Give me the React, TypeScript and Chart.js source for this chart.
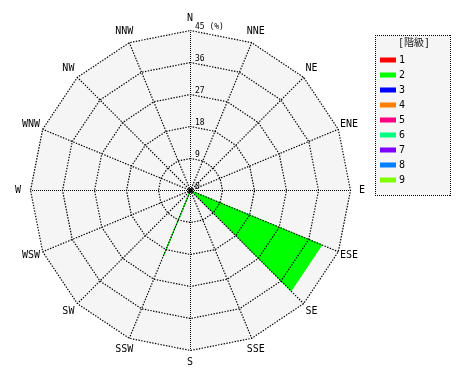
import React, { useEffect, useRef } from 'react';
import { Chart, registerables } from 'chart.js';

Chart.register(...registerables);

const DIRECTIONS = ['N', 'NNE', 'NE', 'ENE', 'E', 'ESE', 'SE', 'SSE', 'S', 'SSW', 'SW', 'WSW', 'W', 'WNW', 'NW', 'NNW'];

const CLASS_LABELS = ['1', '2', '3', '4', '5', '6', '7', '8', '9'];
const CLASS_COLORS = ['#ff0000', '#00ff00', '#0000ff', '#ff8000', '#ff0080', '#00ff80', '#8000ff', '#0080ff', '#80ff00'];

const CLASS_1 = [0, 0, 0, 0, 0, 0, 0, 0, 0, 0, 0, 0, 0, 0, 0, 0];
const CLASS_2 = [0, 0, 0, 0, 0, 40, 40, 0, 0, 20, 0, 0, 0, 0, 0, 0];
const CLASS_3 = [0, 0, 0, 0, 0, 0, 0, 0, 0, 0, 0, 0, 0, 0, 0, 0];
const CLASS_4 = [0, 0, 0, 0, 0, 0, 0, 0, 0, 0, 0, 0, 0, 0, 0, 0];
const CLASS_5 = [0, 0, 0, 0, 0, 0, 0, 0, 0, 0, 0, 0, 0, 0, 0, 0];
const CLASS_6 = [0, 0, 0, 0, 0, 0, 0, 0, 0, 0, 0, 0, 0, 0, 0, 0];
const CLASS_7 = [0, 0, 0, 0, 0, 0, 0, 0, 0, 0, 0, 0, 0, 0, 0, 0];
const CLASS_8 = [0, 0, 0, 0, 0, 0, 0, 0, 0, 0, 0, 0, 0, 0, 0, 0];
const CLASS_9 = [0, 0, 0, 0, 0, 0, 0, 0, 0, 0, 0, 0, 0, 0, 0, 0];
const SERIES = [CLASS_1, CLASS_2, CLASS_3, CLASS_4, CLASS_5, CLASS_6, CLASS_7, CLASS_8, CLASS_9];

const TICKS = [0, 9, 18, 27, 36, 45];
const UNIT = '(%)';
const LEGEND_TITLE = '[階級]';

const MONO = '"DejaVu Sans Mono", "Noto Sans CJK JP", monospace';

function dottedHLine(ctx: CanvasRenderingContext2D, x0: number, x1: number, y: number) {
  for (let x = x0; x <= x1; x += 2) ctx.fillRect(x, y, 1, 1);
}
function dottedVLine(ctx: CanvasRenderingContext2D, x: number, y0: number, y1: number) {
  for (let y = y0; y <= y1; y += 2) ctx.fillRect(x, y, 1, 1);
}

const decorPlugin = {
  id: 'windRoseDecor',
  beforeDraw(chart: any) {
    const ctx = chart.ctx;
    const r = chart.scales.r;
    ctx.save();
    ctx.translate(0.5, 0.5);
    ctx.beginPath();
    for (let i = 0; i < DIRECTIONS.length; i++) {
      const p = r.getPointPosition(i, r.drawingArea);
      if (i === 0) ctx.moveTo(p.x, p.y);
      else ctx.lineTo(p.x, p.y);
    }
    ctx.closePath();
    ctx.fillStyle = '#f5f5f5';
    ctx.fill();
  },
  afterDraw(chart: any) {
    const ctx = chart.ctx;
    const r = chart.scales.r;
    // center dot
    ctx.beginPath();
    ctx.arc(r.xCenter, r.yCenter, 2.2, 0, Math.PI * 2);
    ctx.fillStyle = '#000';
    ctx.fill();
    ctx.restore();

    // direction labels
    ctx.save();
    ctx.font = '10px ' + MONO;
    ctx.fillStyle = '#000';
    ctx.textAlign = 'center';
    ctx.textBaseline = 'middle';
    DIRECTIONS.forEach((d, i) => {
      const p = r.getPointPosition(i, r.drawingArea + 12);
      ctx.fillText(d, p.x, p.y);
    });

    // tick labels
    ctx.font = '8px ' + MONO;
    ctx.textAlign = 'left';
    ctx.textBaseline = 'alphabetic';
    TICKS.forEach((t, i) => {
      const dist = r.getDistanceFromCenterForValue(t);
      const txt = i === TICKS.length - 1 ? t + ' ' + UNIT : String(t);
      ctx.fillText(txt, r.xCenter + 5, r.yCenter - dist - 1);
    });

    // legend
    const lx = 375, ly = 35, lw = 75, lh = 160;
    ctx.fillStyle = '#f5f5f5';
    ctx.fillRect(lx, ly, lw, lh);
    ctx.fillStyle = '#000';
    dottedHLine(ctx, lx, lx + lw, ly);
    dottedHLine(ctx, lx, lx + lw, ly + lh);
    dottedVLine(ctx, lx, ly, ly + lh);
    dottedVLine(ctx, lx + lw, ly, ly + lh);
    ctx.font = '10px ' + MONO;
    ctx.fillStyle = '#222';
    ctx.textAlign = 'center';
    ctx.textBaseline = 'middle';
    ctx.fillText(LEGEND_TITLE, lx + 39, ly + 8);
    ctx.textAlign = 'left';
    chart.data.datasets.forEach((ds: any, i: number) => {
      const cy = ly + 25 + 15 * i;
      ctx.fillStyle = CLASS_COLORS[i];
      ctx.fillRect(lx + 5, cy - 2.5, 16, 5);
      ctx.fillStyle = '#000';
      ctx.fillText(ds.label, lx + 24, cy);
    });
    ctx.restore();
  },
};

export default function App() {
  const ref = useRef<HTMLCanvasElement | null>(null);
  useEffect(() => {
    if (!ref.current) return;
    const chart = new Chart(ref.current, {
      type: 'radar',
      data: {
        labels: DIRECTIONS,
        datasets: CLASS_LABELS.map((label, i) => ({
          label,
          data: SERIES[i],
          backgroundColor: CLASS_COLORS[i],
          borderColor: CLASS_COLORS[i],
          borderWidth: 1,
          pointRadius: 0,
          pointHoverRadius: 0,
          fill: true,
          tension: 0,
        })),
      },
      options: {
        animation: false,
        responsive: false,
        events: [],
        layout: { padding: { left: 30, top: 30, right: 120, bottom: 30 } },
        plugins: { legend: { display: false }, tooltip: { enabled: false }, title: { display: false } },
        scales: {
          r: {
            min: 0,
            max: 45,
            startAngle: 0,
            ticks: { display: false, stepSize: 9 },
            grid: { circular: false, color: '#000', lineWidth: 1.2, z: 1 },
            border: { dash: [1.4, 1.4], dashOffset: 0.5 },
            angleLines: {
              display: true,
              color: '#000',
              lineWidth: (c: any) => (c.index % 4 === 0 ? 1 : 1.2),
              borderDash: (c: any) => (c.index % 4 === 0 ? [1, 1] : [1.4, 1.4]),
              borderDashOffset: 0.5,
            },
            pointLabels: { display: false },
          },
        },
      },
      plugins: [decorPlugin],
    } as any);
    return () => chart.destroy();
  }, []);
  return (
    <div style={{ position: 'absolute', left: 0, top: 0, width: 470, height: 380, background: '#fff' }}>
      <canvas ref={ref} width={470} height={380} style={{ display: 'block' }} />
    </div>
  );
}
